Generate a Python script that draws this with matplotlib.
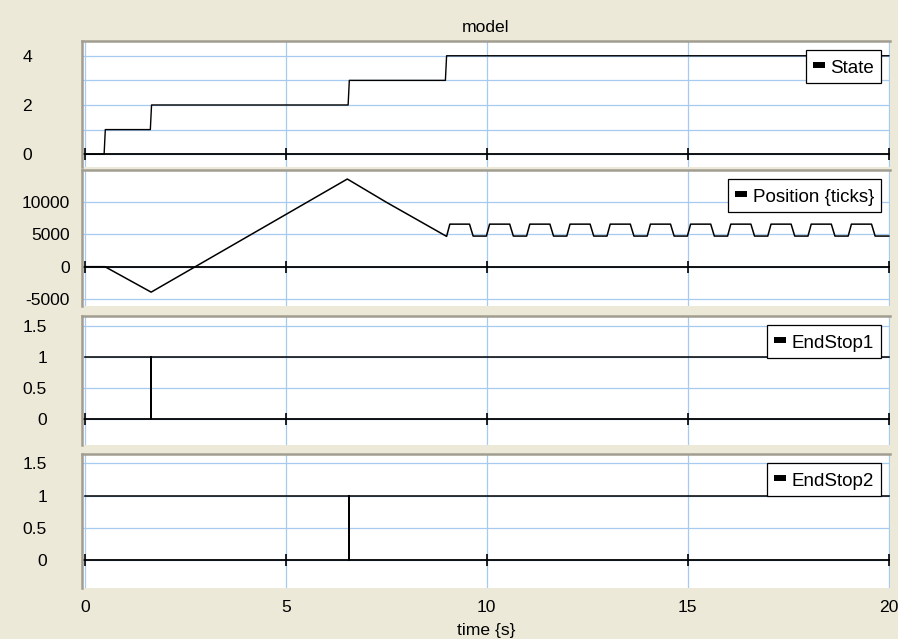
import matplotlib
matplotlib.use("Agg")
import matplotlib.pyplot as plt
from matplotlib.lines import Line2D

plt.rcParams['font.family'] = ['Liberation Sans', 'DejaVu Sans']

# ---------------- data ----------------
x_ticks = [0, 5, 10, 15, 20]

state_t = [0, 0.48, 0.51, 1.63, 1.66, 6.55, 6.58, 8.97, 9.0, 20]
state_v = [0, 0, 1, 1, 2, 2, 3, 3, 4, 4]

pos_t = [0, 0.5, 1.65, 6.53, 7.5, 9.0,
         9.08, 9.57, 9.66, 9.99,
         10.07, 10.57, 10.66, 10.99,
         11.07, 11.57, 11.66, 11.99,
         12.07, 12.57, 12.66, 12.99,
         13.07, 13.57, 13.66, 13.99,
         14.07, 14.57, 14.66, 14.99,
         15.07, 15.57, 15.66, 15.99,
         16.07, 16.57, 16.66, 16.99,
         17.07, 17.57, 17.66, 17.99,
         18.07, 18.57, 18.66, 18.99,
         19.07, 19.57, 19.66, 20.0]
pos_v = [0, 0, -3950, 13600, 10000, 4700,
         6600, 6600, 4750, 4750,
         6600, 6600, 4750, 4750,
         6600, 6600, 4750, 4750,
         6600, 6600, 4750, 4750,
         6600, 6600, 4750, 4750,
         6600, 6600, 4750, 4750,
         6600, 6600, 4750, 4750,
         6600, 6600, 4750, 4750,
         6600, 6600, 4750, 4750,
         6600, 6600, 4750, 4750,
         6600, 6600, 4750, 4750]

es1_t = [0, 1.645, 1.645, 1.655, 1.655, 20]
es1_v = [1, 1, 0, 0, 1, 1]

es2_t = [0, 6.57, 6.57, 6.58, 6.58, 20]
es2_v = [1, 1, 0, 0, 1, 1]

panel_names = ['State', 'Position {ticks}', 'EndStop1', 'EndStop2']

p1_grid = [0, 1, 2, 3, 4]
p1_labels = ['0', '', '2', '', '4']
p2_grid = [-5000, 0, 5000, 10000]
p2_labels = ['-5000', '0', '5000', '10000']
p3_grid = [0, 0.5, 1, 1.5]
p3_labels = ['0', '0.5', '1', '1.5']

# ---------------- layout ----------------
W, H = 898, 639
BG = '#ECE9D8'
GRID = '#A6CAF0'
FS = 12.6
LFS = 13.5

fig = plt.figure(figsize=(W / 100, H / 100), dpi=100, facecolor=BG)

left_px, right_px = 82, 890
panels_px = [(41, 167), (170, 306), (316, 445), (454, 588)]
ylims = [(-0.52, 4.6), (-6100, 15000), (-0.41, 1.66), (-0.434, 1.644)]
pads_px = [50, 12, 35, 35]
series = [(state_t, state_v), (pos_t, pos_v), (es1_t, es1_v), (es2_t, es2_v)]
grids = [(p1_grid, p1_labels), (p2_grid, p2_labels),
         (p3_grid, p3_labels), (p3_grid, p3_labels)]

axes = []
for i, (top, bot) in enumerate(panels_px):
    ax = fig.add_axes([left_px / W, 1 - bot / H, (right_px - left_px) / W, (bot - top) / H])
    ax.set_facecolor('white')
    ax.set_xlim(-0.07, 20.03)
    ax.set_ylim(*ylims[i])
    g, lab = grids[i]
    ax.set_yticks(g)
    ax.set_yticklabels(lab)
    ax.set_xticks(x_ticks)
    ax.grid(True, color=GRID, lw=0.9, zorder=0)
    ax.set_axisbelow(True)
    ax.tick_params(axis='y', length=0, pad=pads_px[i] * 0.72, labelsize=FS)
    ax.tick_params(axis='x', length=0, pad=9, labelsize=FS)
    if i < 3:
        ax.tick_params(axis='x', labelbottom=False)
    for s in ['top', 'left']:
        ax.spines[s].set_color('#A19E91')
        ax.spines[s].set_linewidth(1.8)
    for s in ['bottom', 'right']:
        ax.spines[s].set_visible(False)
    # zero line with tick marks
    ax.axhline(0, color='black', lw=1.3, zorder=2)
    ax.plot(x_ticks, [0] * len(x_ticks), linestyle='none', marker='|',
            ms=8, mew=1.2, color='black', zorder=2)
    t, v = series[i]
    ax.plot(t, v, color='black', lw=1.1 if i != 0 else 1.0, zorder=3)
    h = Line2D([], [], color='black', lw=4.3, solid_capstyle='butt')
    leg = ax.legend([h], [panel_names[i]], loc='upper right', fontsize=LFS,
                    frameon=True, fancybox=False, framealpha=1,
                    edgecolor='black', handlelength=0.65, handletextpad=0.3,
                    handleheight=1.15, borderpad=0.35, borderaxespad=0.5)
    leg.get_frame().set_linewidth(0.9)
    leg.set_zorder(5)
    axes.append(ax)

fig.text(486 / W, 1 - 27 / H, 'model', ha='center', va='center', fontsize=FS)
fig.text(486 / W, 1 - 630 / H, 'time {s}', ha='center', va='center', fontsize=FS)

fig.savefig('out.png', dpi=100, facecolor=BG)
